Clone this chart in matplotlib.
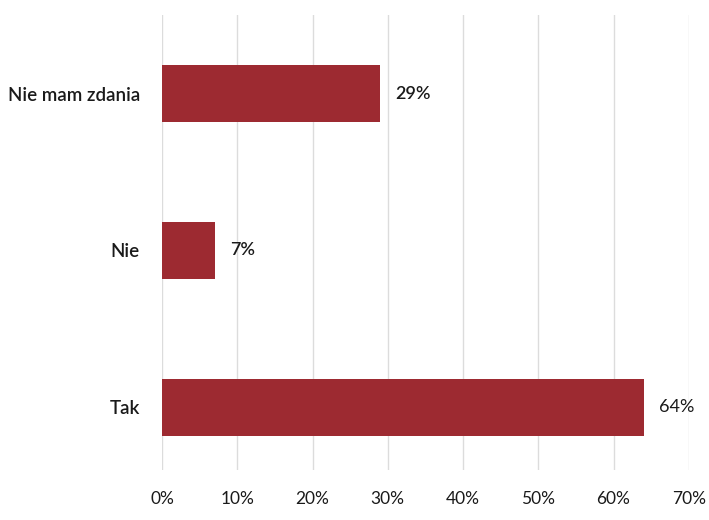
import matplotlib.pyplot as plt
from matplotlib.ticker import FuncFormatter

categories = ['Tak', 'Nie', 'Nie mam zdania']
values = [64, 7, 29]
xticks = [0, 10, 20, 30, 40, 50, 60, 70]

bar_color = '#9d2a31'
grid_color = '#dcdcdc'

plt.rcParams['font.family'] = ['Lato', 'DejaVu Sans']

fig = plt.figure(figsize=(7.09, 5.20), dpi=100)
ax = fig.add_axes([0.2285, 0.096, 0.743, 0.875])

ypos = range(len(categories))
ax.barh(ypos, values, height=0.36, color=bar_color, zorder=2)

for y, v in zip(ypos, values):
    ax.text(v + 2.0, y, f'{v}%', va='center', ha='left', fontsize=13,
            fontweight='semibold' if v < 50 else 'normal', color='#1a1a1a')

ax.set_xlim(0, 70)
ax.set_ylim(-0.4, 2.5)
ax.set_xticks(xticks)
ax.xaxis.set_major_formatter(FuncFormatter(lambda x, _: f'{int(x)}%'))
ax.set_yticks(list(ypos))
ax.set_yticklabels(categories, fontsize=13.5, fontweight='semibold', color='#1a1a1a')
ax.tick_params(axis='x', labelsize=12.5, length=0, pad=15, labelcolor='#1a1a1a')
ax.tick_params(axis='y', length=0, pad=16)

ax.grid(axis='x', color=grid_color, linewidth=1, zorder=0)
for side in ax.spines.values():
    side.set_visible(False)

plt.savefig('out.png', dpi=100)
